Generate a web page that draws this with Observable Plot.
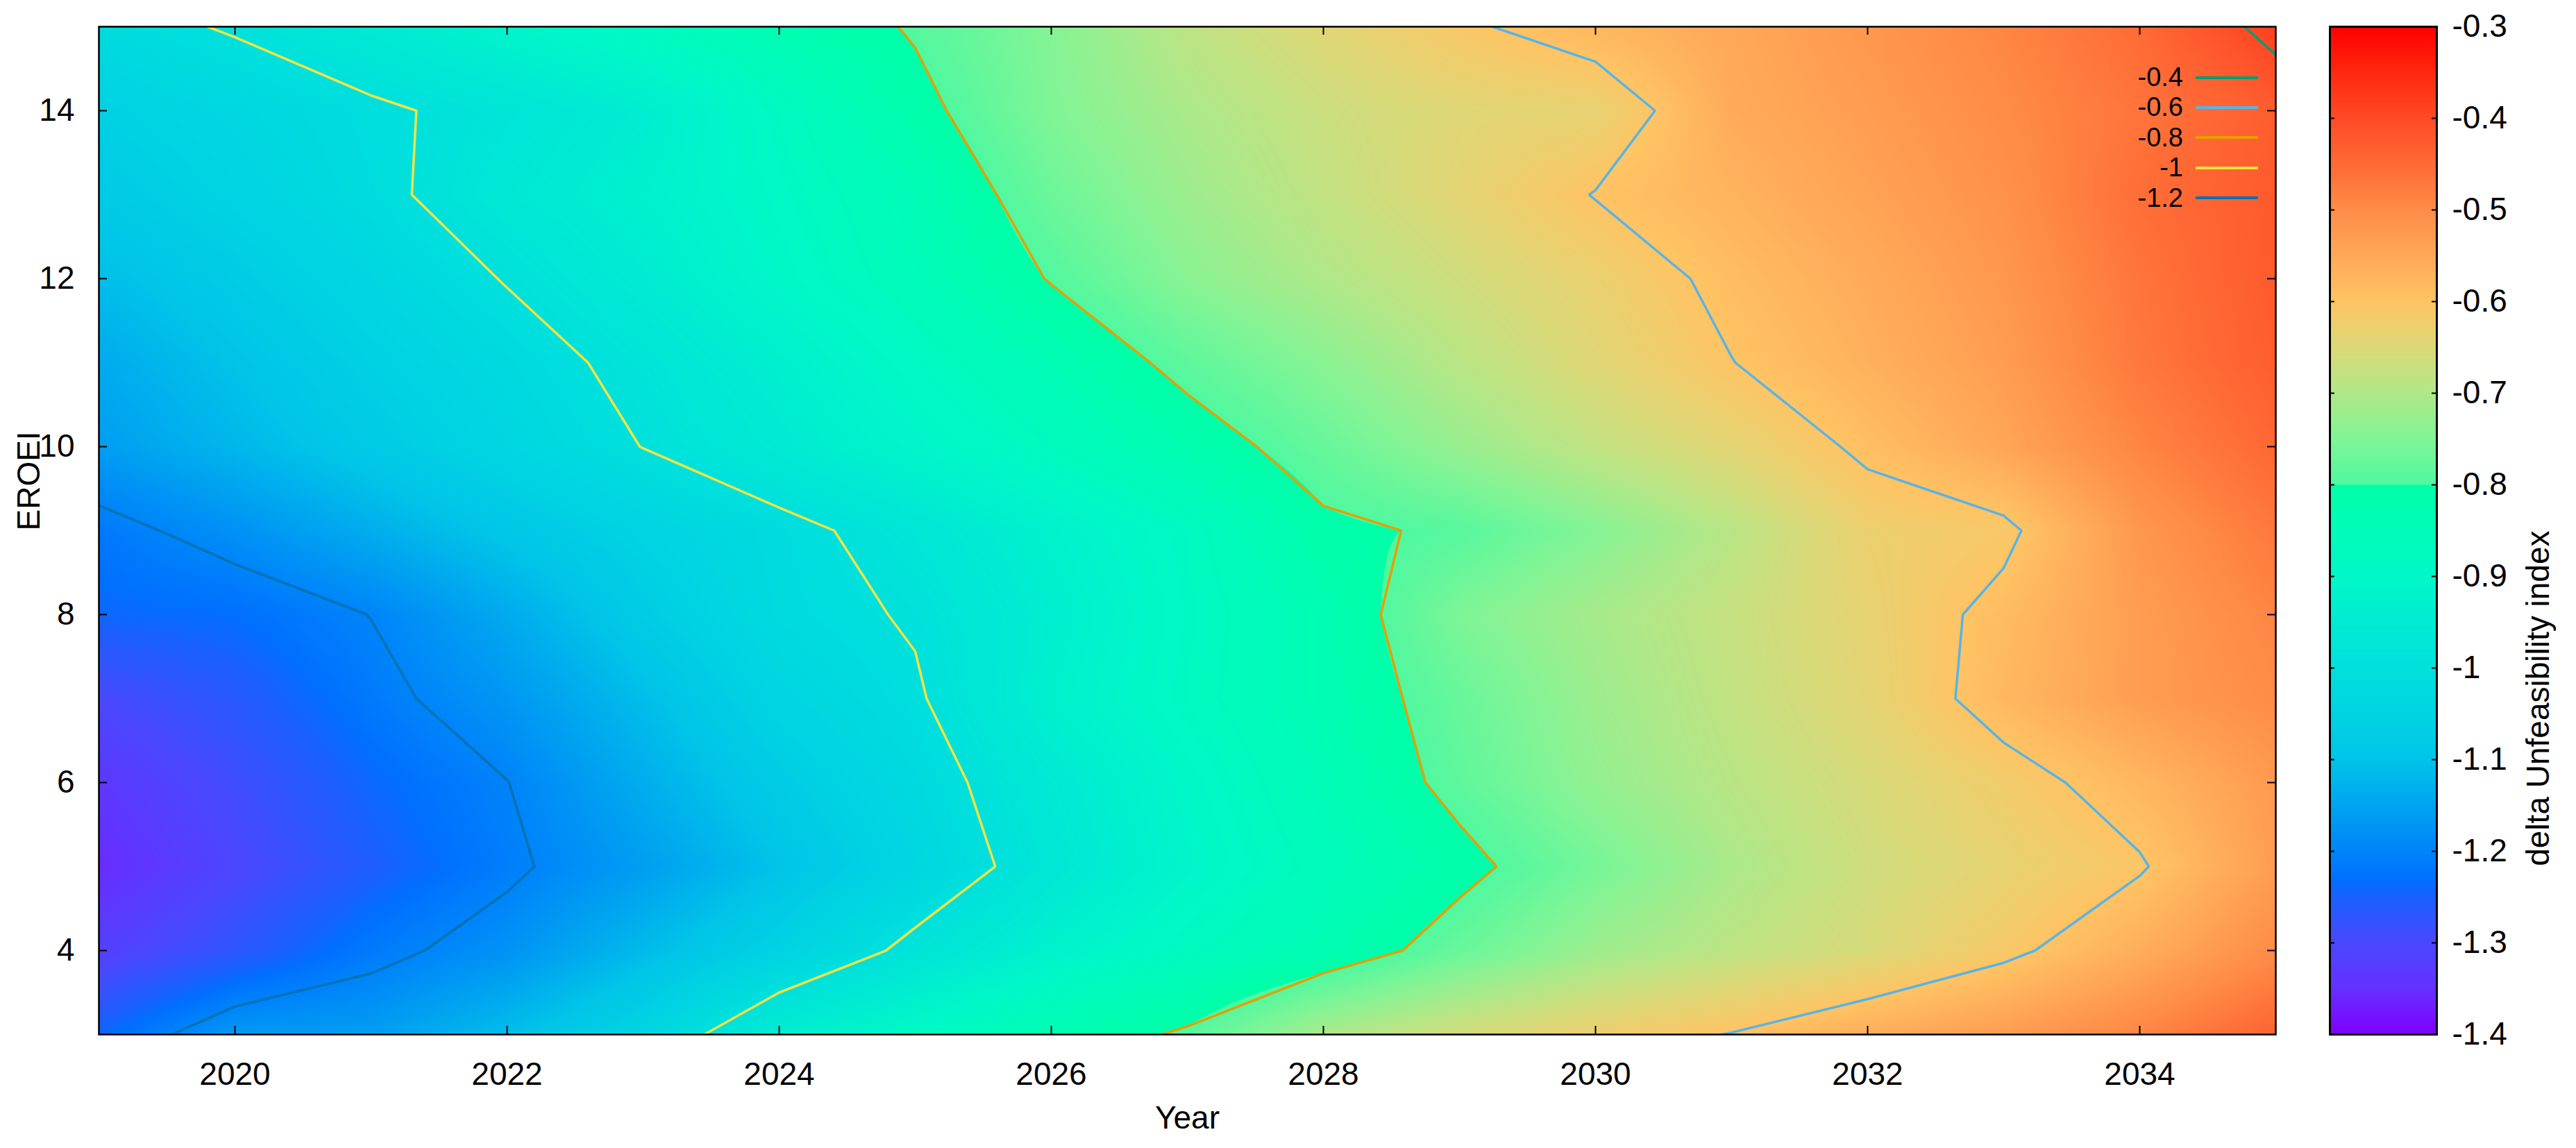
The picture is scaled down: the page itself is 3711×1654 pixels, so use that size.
<!DOCTYPE html>
<html>
<head>
<meta charset="utf-8">
<script src="https://cdn.jsdelivr.net/npm/d3@7"></script>
<script src="https://cdn.jsdelivr.net/npm/@observablehq/plot@0.6"></script>
<style>
  body { margin: 0; background: #fff; }
  #root { position: relative; width: 3711px; height: 1654px; overflow: hidden; font-family: "Liberation Sans", Arial, sans-serif; }
  #main { position: absolute; left: 0; top: 0; }
  #cbar { position: absolute; left: 3300px; top: 0; }
  #legend { position: absolute; left: 2945px; top: 90px; }
  .lrow { display: flex; align-items: center; height: 43.4px; }
  .ltxt { width: 200px; text-align: right; font-size: 38px; line-height: 43.4px; color: #000; }
  .lgap { width: 18px; }
  .lline { width: 90px; height: 4px; }
</style>
</head>
<body>
<div id="root">
  <div id="main"></div>
  <div id="cbar"></div>
  <div id="legend"></div>
</div>
<script>
// ---- data: delta Unfeasibility index on a Year x EROEI grid ----
const years = [2019, 2020, 2021, 2022, 2023, 2024, 2025, 2026, 2027, 2028, 2029, 2030, 2031, 2032, 2033, 2034, 2035];
const eroei = [3, 4, 5, 6, 7, 8, 9, 10, 11, 12, 13, 14, 15];

const eroei3  = [-1.24, -1.165, -1.16, -1.11, -1.045, -0.945, -0.89, -0.835, -0.792, -0.705, -0.66, -0.625, -0.598, -0.56, -0.53, -0.49, -0.44];
const eroei4  = [-1.32, -1.27, -1.215, -1.177, -1.115, -1.055, -0.985, -0.925, -0.875, -0.835, -0.775, -0.72, -0.685, -0.655, -0.612, -0.56, -0.5];
const eroei5  = [-1.355, -1.305, -1.255, -1.21, -1.16, -1.1, -1.04, -0.972, -0.91, -0.86, -0.815, -0.76, -0.705, -0.665, -0.635, -0.605, -0.53];
const eroei6  = [-1.335, -1.29, -1.24, -1.201, -1.135, -1.075, -1.025, -0.96, -0.9, -0.845, -0.785, -0.73, -0.69, -0.655, -0.62, -0.576, -0.525];
const eroei7  = [-1.3, -1.265, -1.215, -1.17, -1.11, -1.045, -1.0064, -0.93, -0.88, -0.835, -0.775, -0.72, -0.68, -0.64, -0.578, -0.53, -0.5];
const eroei8  = [-1.24, -1.2315, -1.199, -1.14, -1.075, -1.02, -0.995, -0.94, -0.885, -0.835, -0.752, -0.71, -0.675, -0.635, -0.585, -0.53, -0.49];
const eroei9  = [-1.217, -1.179, -1.135, -1.09, -1.05, -1.017, -0.975, -0.925, -0.88, -0.81, -0.7925, -0.745, -0.69, -0.627, -0.612, -0.52, -0.47];
const eroei10 = [-1.16, -1.12, -1.08, -1.04, -0.999, -0.955, -0.91, -0.87, -0.825, -0.776, -0.725, -0.68, -0.64, -0.59, -0.545, -0.49, -0.445];
const eroei11 = [-1.14, -1.1, -1.06, -1.025, -0.983, -0.935, -0.885, -0.84, -0.785, -0.74, -0.69, -0.645, -0.601, -0.565, -0.53, -0.47, -0.43];
const eroei12 = [-1.11, -1.075, -1.04, -0.997, -0.95, -0.9, -0.855, -0.797, -0.74, -0.7, -0.665, -0.63, -0.587, -0.555, -0.52, -0.465, -0.425];
const eroei13 = [-1.08, -1.05, -1.015, -0.965, -0.93, -0.89, -0.845, -0.77, -0.72, -0.68, -0.64, -0.598, -0.57, -0.54, -0.51, -0.455, -0.425];
const eroei14 = [-1.06, -1.035, -1.01, -0.98, -0.945, -0.88, -0.815, -0.75, -0.705, -0.67, -0.645, -0.635, -0.555, -0.53, -0.5, -0.465, -0.43];
const eroei15 = [-1.02, -0.995, -0.955, -0.915, -0.875, -0.835, -0.795, -0.745, -0.685, -0.645, -0.608, -0.575, -0.55, -0.52, -0.49, -0.45, -0.385];

const contourLevels = [-0.4, -0.6, -0.8, -1, -1.2];
const contourColors = ["#009e73", "#56b4e9", "#e69f00", "#f0e442", "#0072b2"];

const xTicks = [2020, 2022, 2024, 2026, 2028, 2030, 2032, 2034];
const yTicks = [4, 6, 8, 10, 12, 14];
const cbTicks = [-1.4, -1.3, -1.2, -1.1, -1, -0.9, -0.8, -0.7, -0.6, -0.5, -0.4, -0.3];

// palette (piecewise, with the jump at -0.8)
const paletteStops = [-1.4, -1.35, -1.3, -1.25, -1.23, -1.2, -1.15, -1.1, -1.05, -1.0, -0.95, -0.9, -0.85, -0.8001, -0.8, -0.75, -0.7, -0.65, -0.6, -0.55, -0.5, -0.45, -0.4, -0.35, -0.3];
const paletteColors = ["#8000ff", "#6530ff", "#4a48ff", "#1a60ff", "#0070ff", "#0084fa", "#00a4f0", "#00c4e8", "#00d4e2", "#00e0dc", "#00ecd2", "#00f8c8", "#00fcb8", "#00ffa8", "#50f8a0", "#80f596", "#b0e888", "#dcd877", "#ffc464", "#ffa858", "#ff8c48", "#ff6a35", "#ff4a25", "#ff2810", "#ff0000"];

// ---- build ----
const rows = [eroei3, eroei4, eroei5, eroei6, eroei7, eroei8, eroei9, eroei10, eroei11, eroei12, eroei13, eroei14, eroei15];
const grid = rows.flat(); // row-major, first row = lowest EROEI
const nx = years.length, ny = eroei.length;

function sample(x, y) {
  let fx = (x - years[0]) / (years[nx - 1] - years[0]) * (nx - 1);
  let fy = (y - eroei[0]) / (eroei[ny - 1] - eroei[0]) * (ny - 1);
  fx = Math.max(0, Math.min(nx - 1 - 1e-9, fx));
  fy = Math.max(0, Math.min(ny - 1 - 1e-9, fy));
  const i = Math.floor(fx), j = Math.floor(fy), tx = fx - i, ty = fy - j;
  const a = rows[j][i], b = rows[j][i + 1], c = rows[j + 1][i], d = rows[j + 1][i + 1];
  return (a * (1 - tx) + b * tx) * (1 - ty) + (c * (1 - tx) + d * tx) * ty;
}

const FONT = '"Liberation Sans", Arial, sans-serif';
const colorScale = {type: "linear", domain: paletteStops, range: paletteColors, interpolate: "rgb", clamp: true};

const W = 3300, H = 1654, ML = 142, MR = 22, MT = 38, MB = 164;
const FW = W - ML - MR, FH = H - MT - MB;
const tickLen = 12;

const main = Plot.plot({
  width: W, height: H,
  marginLeft: ML, marginRight: MR, marginTop: MT, marginBottom: MB,
  style: {fontFamily: FONT, fontSize: "46px", color: "black", background: "white"},
  x: {domain: [years[0], years[nx - 1]]},
  y: {domain: [eroei[0], eroei[ny - 1]]},
  color: colorScale,
  marks: [
    Plot.raster({x1: years[0], x2: years[nx - 1], y1: eroei[0], y2: eroei[ny - 1], fill: sample}),
    ...contourLevels.map((t, k) => Plot.contour(grid, {
      width: nx, height: ny,
      x1: years[0] - 0.5, x2: years[nx - 1] + 0.5,
      y1: eroei[0] - 0.5, y2: eroei[ny - 1] + 0.5,
      value: Plot.identity,
      thresholds: [t],
      stroke: contourColors[k], strokeWidth: 3.5, fill: "none", clip: true
    })),
    Plot.tickX(xTicks, {x: d => d, insetTop: FH - tickLen, stroke: "black", strokeWidth: 2}),
    Plot.tickX(xTicks, {x: d => d, insetBottom: FH - tickLen, stroke: "black", strokeWidth: 2}),
    Plot.tickY(yTicks, {y: d => d, insetRight: FW - tickLen, stroke: "black", strokeWidth: 2}),
    Plot.tickY(yTicks, {y: d => d, insetLeft: FW - tickLen, stroke: "black", strokeWidth: 2}),
    Plot.frame({stroke: "black", strokeWidth: 2.5}),
    Plot.axisX({ticks: xTicks, tickSize: 0, tickPadding: 40, tickFormat: d => String(d), label: null}),
    Plot.axisY({ticks: yTicks, tickSize: 0, tickPadding: 35, tickFormat: d => String(d), label: null}),
    Plot.text(["Year"], {text: d => d, frameAnchor: "bottom", dy: 121, lineAnchor: "middle"}),
    Plot.text(["EROEI"], {text: d => d, frameAnchor: "left", dx: -100, rotate: -90, lineAnchor: "middle"})
  ]
});
document.getElementById("main").appendChild(main);

const CW = 411, CML = 56, CMR = 201;
const CBW = CW - CML - CMR;
const cbar = Plot.plot({
  width: CW, height: H,
  marginLeft: CML, marginRight: CMR, marginTop: MT, marginBottom: MB,
  style: {fontFamily: FONT, fontSize: "46px", color: "black", background: "white"},
  x: {domain: [0, 1], axis: null},
  y: {domain: [cbTicks[0], cbTicks[cbTicks.length - 1]], axis: null},
  color: colorScale,
  marks: [
    Plot.raster({x1: 0, x2: 1, y1: cbTicks[0], y2: cbTicks[cbTicks.length - 1], fill: (x, y) => y}),
    Plot.tickY(cbTicks, {y: d => d, insetRight: CBW - 7, stroke: "black", strokeWidth: 2}),
    Plot.tickY(cbTicks, {y: d => d, insetLeft: CBW - 7, stroke: "black", strokeWidth: 2}),
    Plot.frame({stroke: "black", strokeWidth: 3}),
    Plot.axisY({anchor: "right", ticks: cbTicks, tickSize: 0, tickPadding: 22, tickFormat: d => String(d), label: null}),
    Plot.text(["delta Unfeasibility index"], {text: d => d, frameAnchor: "right", dx: 147, rotate: -90, lineAnchor: "middle"})
  ]
});
document.getElementById("cbar").appendChild(cbar);

// legend for contour levels
const legend = document.getElementById("legend");
contourLevels.forEach((t, k) => {
  const row = document.createElement("div");
  row.className = "lrow";
  const tx = document.createElement("span");
  tx.className = "ltxt";
  tx.textContent = String(t);
  const gap = document.createElement("span");
  gap.className = "lgap";
  const ln = document.createElement("span");
  ln.className = "lline";
  ln.style.background = contourColors[k];
  row.append(tx, gap, ln);
  legend.appendChild(row);
});
</script>
</body>
</html>
